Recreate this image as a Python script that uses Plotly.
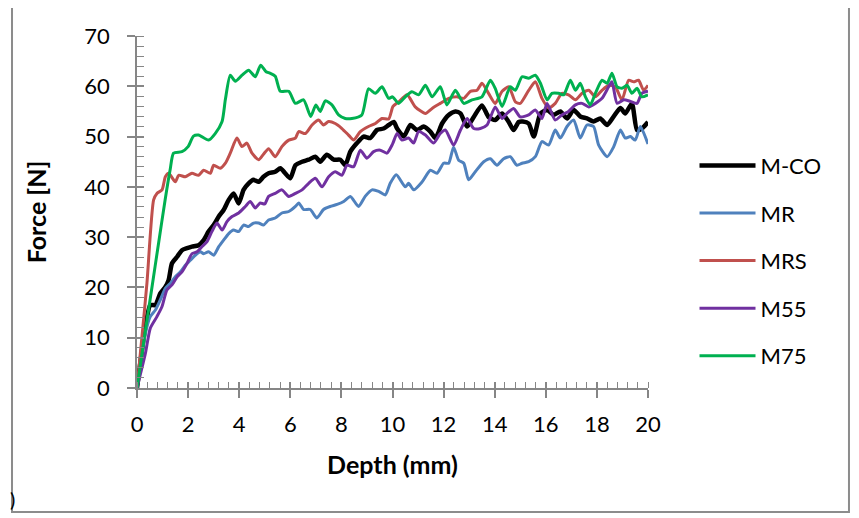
import plotly.graph_objects as go

series_names = ["M-CO", "MR", "MRS", "M55", "M75"]
colors = ["#000000", "#4F81BD", "#C0504D", "#7030A0", "#00B050"]
widths = [4.5, 3, 3, 3, 3]

mco_x = [0, 0.33, 0.52, 0.72, 0.91, 1.11, 1.24, 1.37, 1.57, 1.76, 1.96, 2.15, 2.41, 2.61, 2.8, 3.0, 3.2, 3.39, 3.59, 3.78, 3.98, 4.17, 4.37, 4.56, 4.76, 4.95, 5.15, 5.41, 5.61, 5.8, 6.0, 6.2, 6.46, 6.72, 6.98, 7.17, 7.43, 7.7, 7.96, 8.15, 8.35, 8.61, 8.87, 9.13, 9.39, 9.65, 9.85, 10.05, 10.18, 10.44, 10.7, 10.96, 11.22, 11.48, 11.68, 11.94, 12.2, 12.46, 12.66, 12.92, 13.18, 13.5, 13.76, 14.02, 14.29, 14.55, 14.74, 14.94, 15.1, 15.33, 15.53, 15.79, 16.05, 16.31, 16.57, 16.83, 17.09, 17.35, 17.61, 17.87, 18.13, 18.4, 18.66, 18.92, 19.11, 19.37, 19.57, 19.76, 20.0]
mco_y = [0, 12.2, 16.5, 16.5, 18.8, 20.1, 21.5, 24.8, 26.1, 27.4, 27.8, 28.1, 28.4, 29.4, 31.1, 32.4, 34.1, 35.4, 37.4, 38.7, 36.7, 39.4, 40.7, 41.4, 41.0, 42.0, 42.7, 43.0, 43.7, 42.7, 41.7, 44.3, 45.0, 45.4, 46.0, 45.0, 46.4, 45.4, 45.4, 44.3, 47.0, 48.7, 50.0, 49.7, 51.3, 51.6, 52.3, 52.9, 51.6, 50.0, 52.3, 51.3, 52.0, 51.0, 49.7, 52.6, 54.3, 55.0, 54.6, 52.0, 53.9, 56.2, 53.9, 53.3, 54.6, 52.9, 51.3, 52.9, 53.0, 52.6, 50.0, 54.6, 55.3, 54.3, 55.0, 53.6, 55.3, 54.0, 53.6, 53.0, 53.6, 52.3, 54.0, 55.7, 54.6, 56.6, 51.3, 51.6, 52.9]

mr_x = [0, 0.33, 0.52, 0.72, 0.91, 1.11, 1.3, 1.5, 1.7, 1.89, 2.09, 2.28, 2.48, 2.61, 2.8, 3.0, 3.2, 3.39, 3.59, 3.78, 3.98, 4.17, 4.37, 4.56, 4.76, 4.95, 5.15, 5.41, 5.67, 5.94, 6.2, 6.33, 6.52, 6.78, 7.04, 7.3, 7.56, 7.83, 8.09, 8.35, 8.67, 8.93, 9.2, 9.46, 9.72, 9.91, 10.15, 10.5, 10.63, 10.83, 11.16, 11.48, 11.74, 12.0, 12.2, 12.39, 12.59, 12.79, 12.98, 13.24, 13.57, 13.83, 14.09, 14.35, 14.61, 14.87, 15.07, 15.33, 15.59, 15.85, 16.11, 16.37, 16.57, 16.83, 17.09, 17.35, 17.61, 17.87, 18.07, 18.4, 18.66, 18.92, 19.11, 19.31, 19.5, 19.7, 20.0]
mr_y = [0, 10.9, 14.2, 15.5, 17.5, 19.8, 20.8, 22.1, 23.1, 24.4, 25.4, 26.4, 27.1, 26.7, 27.1, 26.4, 28.1, 29.4, 30.7, 31.4, 31.1, 32.4, 32.1, 32.8, 32.8, 32.4, 33.4, 33.8, 34.8, 35.1, 36.1, 36.8, 35.5, 35.5, 33.8, 35.5, 36.1, 36.5, 37.1, 38.1, 36.1, 38.1, 39.4, 39.1, 38.4, 40.7, 42.4, 40.0, 40.7, 39.4, 41.0, 43.3, 42.7, 44.7, 44.7, 47.9, 45.3, 44.7, 41.4, 43.0, 45.0, 45.6, 44.3, 45.6, 46.0, 44.3, 44.7, 45.0, 46.0, 49.0, 48.3, 51.3, 49.7, 52.0, 53.3, 49.7, 52.3, 52.0, 48.3, 46.0, 48.0, 51.3, 49.7, 50.0, 49.3, 52.0, 48.5]

mrs_x = [0, 0.2, 0.39, 0.65, 0.78, 0.98, 1.11, 1.24, 1.5, 1.63, 1.89, 2.15, 2.41, 2.61, 2.87, 3.0, 3.26, 3.46, 3.65, 3.91, 4.11, 4.3, 4.5, 4.76, 4.95, 5.15, 5.41, 5.67, 5.94, 6.2, 6.33, 6.59, 6.85, 7.11, 7.3, 7.5, 7.76, 8.02, 8.28, 8.48, 8.74, 9.06, 9.33, 9.59, 9.85, 10.02, 10.24, 10.57, 10.89, 11.29, 11.55, 11.87, 12.2, 12.52, 12.79, 13.05, 13.31, 13.5, 13.76, 14.02, 14.29, 14.55, 14.81, 15.0, 15.33, 15.59, 15.85, 16.11, 16.37, 16.63, 16.89, 17.16, 17.42, 17.68, 17.94, 18.2, 18.46, 18.72, 18.98, 19.24, 19.44, 19.63, 19.83, 20.0]
mrs_y = [0, 10.5, 20.9, 37.4, 38.7, 39.4, 42.0, 42.7, 41.0, 42.3, 42.0, 42.7, 42.3, 43.3, 42.7, 44.3, 43.7, 44.7, 46.7, 49.7, 48.0, 48.7, 46.7, 45.4, 46.5, 47.6, 46.0, 48.0, 49.3, 49.7, 51.0, 50.6, 52.3, 53.3, 52.3, 53.0, 52.6, 51.6, 50.3, 49.3, 51.0, 52.0, 52.6, 53.6, 53.5, 56.0, 56.9, 58.3, 55.9, 54.6, 55.6, 56.6, 57.6, 57.9, 57.6, 59.0, 59.2, 60.6, 58.6, 56.6, 59.0, 59.9, 56.9, 56.6, 59.2, 60.9, 57.6, 55.7, 56.6, 58.6, 58.3, 57.3, 58.6, 59.2, 57.9, 59.2, 60.2, 59.9, 57.3, 61.2, 60.9, 61.2, 59.2, 60.2]

m55_x = [0, 0.33, 0.52, 0.78, 0.98, 1.17, 1.37, 1.57, 1.76, 1.96, 2.15, 2.35, 2.54, 2.74, 2.93, 3.13, 3.33, 3.52, 3.72, 3.98, 4.24, 4.43, 4.63, 4.82, 5.0, 5.15, 5.41, 5.67, 5.94, 6.2, 6.46, 6.72, 6.98, 7.24, 7.5, 7.76, 8.02, 8.22, 8.48, 8.74, 9.0, 9.26, 9.52, 9.78, 10.0, 10.18, 10.37, 10.63, 10.83, 11.02, 11.29, 11.61, 11.87, 12.07, 12.39, 12.66, 12.92, 13.18, 13.44, 13.7, 14.02, 14.29, 14.48, 14.74, 15.0, 15.33, 15.59, 15.85, 16.05, 16.37, 16.63, 16.89, 17.16, 17.42, 17.68, 17.94, 18.2, 18.46, 18.59, 18.79, 19.05, 19.31, 19.57, 19.76, 20.0]
m55_y = [0, 6.9, 11.9, 14.2, 16.2, 19.5, 20.5, 22.1, 23.1, 24.8, 26.7, 27.1, 28.1, 29.1, 31.1, 32.8, 31.4, 33.1, 34.1, 34.8, 36.1, 37.1, 35.8, 36.8, 36.6, 38.1, 38.7, 39.4, 38.1, 38.7, 39.4, 40.7, 41.7, 40.0, 42.0, 43.0, 42.3, 44.3, 44.0, 47.3, 45.7, 47.0, 47.3, 46.7, 48.5, 50.6, 49.3, 49.7, 48.7, 51.0, 50.3, 48.7, 50.6, 51.3, 48.3, 51.3, 53.6, 51.6, 51.6, 52.3, 55.9, 53.6, 54.6, 55.6, 53.9, 54.3, 55.3, 53.6, 56.6, 53.3, 54.3, 55.0, 56.3, 56.6, 55.9, 56.6, 57.6, 59.9, 60.9, 56.6, 57.3, 57.0, 56.6, 58.6, 59.0]

m75_x = [0, 0.3, 0.57, 0.85, 1.1, 1.3, 1.43, 1.76, 2.0, 2.21, 2.41, 2.8, 3.06, 3.33, 3.46, 3.65, 3.85, 4.11, 4.37, 4.63, 4.84, 5.05, 5.2, 5.41, 5.61, 5.94, 6.2, 6.52, 6.8, 7.0, 7.17, 7.37, 7.63, 7.89, 8.15, 8.41, 8.8, 9.06, 9.33, 9.59, 9.85, 10.0, 10.24, 10.5, 10.76, 11.02, 11.29, 11.55, 11.87, 12.13, 12.46, 12.79, 13.11, 13.5, 13.83, 14.02, 14.29, 14.61, 14.81, 15.07, 15.33, 15.59, 15.79, 16.05, 16.24, 16.5, 16.7, 16.96, 17.16, 17.35, 17.55, 17.74, 17.94, 18.2, 18.4, 18.59, 18.79, 18.98, 19.18, 19.37, 19.57, 19.76, 20.0]
m75_y = [0, 10.5, 19.5, 29.0, 37.4, 43.5, 46.7, 47.0, 48.0, 50.1, 50.3, 49.3, 50.6, 53.0, 57.4, 62.2, 61.0, 62.2, 63.2, 61.9, 64.2, 62.9, 62.6, 62.0, 59.0, 59.0, 56.6, 57.3, 54.0, 56.3, 55.0, 57.1, 56.3, 54.3, 53.6, 53.6, 54.3, 59.5, 58.6, 59.9, 57.6, 57.9, 56.6, 57.9, 58.9, 58.3, 60.2, 57.9, 59.9, 56.3, 59.2, 56.6, 57.3, 57.9, 61.2, 59.6, 56.0, 59.9, 59.2, 61.9, 61.6, 62.2, 60.6, 57.3, 58.6, 58.6, 58.3, 61.2, 59.2, 60.6, 57.9, 56.3, 58.6, 61.2, 60.6, 62.6, 59.9, 59.6, 60.2, 58.6, 59.6, 57.9, 58.3]

xs = [mco_x, mr_x, mrs_x, m55_x, m75_x]
ys = [mco_y, mr_y, mrs_y, m55_y, m75_y]

x_range = [0, 20]
y_range = [0, 70]
x_dtick = 2
y_dtick = 10

FONT = "Lato, 'Open Sans', sans-serif"
AXC = "#868686"

fig = go.Figure()
for i, name in enumerate(series_names):
    fig.add_trace(go.Scatter(
        x=xs[i], y=ys[i], name=name, mode="lines",
        line=dict(color=colors[i], width=widths[i], shape="spline", smoothing=0.6),
        legendgroup=name,
    ))

# helper trace for the overlay axes that draw the inner half of the crossing major ticks
fig.add_trace(go.Scatter(x=[x_range[0]], y=[y_range[0]], xaxis="x2", yaxis="y2",
                         mode="markers", marker=dict(opacity=0), showlegend=False,
                         hoverinfo="skip"))

# page has an 8px body margin; margins compensate so the plot area lands where the reference has it
fig.update_layout(
    width=859, height=518,
    margin=dict(l=129, r=219, t=28, b=138),
    paper_bgcolor="white", plot_bgcolor="white",
    font=dict(family=FONT, size=22, color="#000000"),
    xaxis=dict(range=x_range, dtick=x_dtick, tick0=0, showgrid=False, zeroline=False,
               showline=True, linecolor=AXC, linewidth=1.5,
               ticks="outside", ticklen=8, tickwidth=1.5, tickcolor=AXC,
               minor=dict(ticks="inside", ticklen=6, dtick=0.4, tickwidth=1.3, tickcolor=AXC, showgrid=False),
               ticklabelstandoff=8,
               title=dict(text="<b>Depth (mm)</b>", font=dict(size=25), standoff=20)),
    yaxis=dict(range=y_range, dtick=y_dtick, tick0=0, showgrid=False, zeroline=False,
               showline=True, linecolor=AXC, linewidth=1.5,
               ticks="outside", ticklen=8, tickwidth=1.5, tickcolor=AXC,
               minor=dict(ticks="inside", ticklen=7, dtick=2, tickwidth=1.3, tickcolor=AXC, showgrid=False),
               ticklabelstandoff=13,
               title=dict(text="<b>Force [N]</b>", font=dict(size=25), standoff=31)),
    xaxis2=dict(overlaying="x", anchor="y2", side="bottom", range=x_range, dtick=x_dtick, tick0=0,
                showgrid=False, zeroline=False, showline=False, showticklabels=False,
                ticks="inside", ticklen=6, tickwidth=1.5, tickcolor=AXC),
    yaxis2=dict(overlaying="y", anchor="x2", side="left", range=y_range, dtick=y_dtick, tick0=0,
                showgrid=False, zeroline=False, showline=False, showticklabels=False,
                ticks="inside", ticklen=7, tickwidth=1.5, tickcolor=AXC),
    legend=dict(x=1.091, xanchor="left", y=0.362, yanchor="middle",
                font=dict(size=22), traceorder="grouped", tracegroupgap=16,
                itemwidth=56, bgcolor="rgba(0,0,0,0)"),
    showlegend=True,
)

fig.add_shape(type="rect", xref="paper", yref="paper",
              x0=-0.2446, x1=1.3933, y0=-0.3523, y1=1.0852,
              line=dict(color="#8C8C8C", width=2), fillcolor="rgba(0,0,0,0)", layer="below")
fig.add_annotation(text=")", xref="paper", yref="paper", x=-0.2525, y=-0.355,
                   showarrow=False, font=dict(size=20), xanchor="left")

fig.write_html("out.html")
